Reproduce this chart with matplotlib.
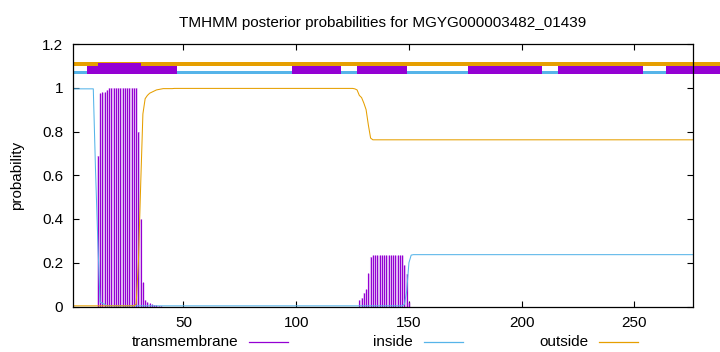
import numpy as np
import matplotlib.pyplot as plt
from matplotlib.patches import Rectangle
from matplotlib.lines import Line2D
from matplotlib.ticker import FuncFormatter

plt.rcParams['font.family'] = ['Liberation Sans', 'DejaVu Sans']

seq_len = 276
pos = np.arange(1, seq_len + 1)

# posterior probabilities, position 1..276
tm = ([0.0] * 11
      + [0.69, 0.975, 0.98, 0.98, 0.99]
      + [1.0] * 13
      + [0.8, 0.4, 0.11, 0.03, 0.02, 0.015, 0.01, 0.008, 0.005, 0.004, 0.003]
      + [0.0] * 87
      + [0.03, 0.04, 0.063, 0.079, 0.152, 0.228]
      + [0.235] * 14
      + [0.19, 0.15, 0.02]
      + [0.0] * 126)

inside = ([0.995] * 10
          + [0.62, 0.3, 0.02, 0.015, 0.01]
          + [0.003] * 132
          + [0.01, 0.07, 0.2, 0.235]
          + [0.237] * 125)

outside = ([0.003] * 28
           + [0.01, 0.2, 0.55, 0.88, 0.95, 0.965, 0.975, 0.98, 0.985, 0.99, 0.992, 0.994]
           + [0.996] * 5
           + [0.997] * 80
           + [0.995, 0.99, 0.965, 0.955, 0.93, 0.9, 0.83, 0.77]
           + [0.762] * 143)

# topology bars above the plot (start, end)
tm_bars = [(7, 47), (98, 120), (127, 149), (176, 209), (216, 254), (264, 292)]
tm_bar_tall = [(12, 31)]

purple = '#9400d3'
blue = '#56b4e9'
orange = '#e69f00'

fig = plt.figure(figsize=(7.2, 3.52), dpi=100)
ax = fig.add_axes([73 / 720, 1 - 306.5 / 352, 620 / 720, 262.5 / 352])

ax.fill_between(pos, tm, step='mid', color=purple, alpha=0.28, lw=0)
ax.vlines(pos, 0, tm, color=purple, lw=0.75)
ax.plot(pos, inside, color=blue, lw=0.75)
ax.plot(pos, outside, color=orange, lw=0.75)

# bars at the top, running past the right border
ax.add_patch(Rectangle((1, 1.101), 300, 0.017, color=orange, lw=0, clip_on=False, zorder=3))
ax.add_patch(Rectangle((1, 1.063), 300, 0.014, color=blue, lw=0, clip_on=False, zorder=3))
for a, b in tm_bars:
    ax.add_patch(Rectangle((a, 1.064), b - a, 0.036, color=purple, lw=0, clip_on=False, zorder=4))
for a, b in tm_bar_tall:
    ax.add_patch(Rectangle((a, 1.064), b - a, 0.051, color=purple, lw=0, clip_on=False, zorder=4))

ax.set_xlim(1, seq_len)
ax.set_ylim(0, 1.2)
ax.set_xticks([50, 100, 150, 200, 250])
ax.set_yticks([0, 0.2, 0.4, 0.6, 0.8, 1.0, 1.2])
ax.yaxis.set_major_formatter(FuncFormatter(lambda v, p: '%g' % v))
ax.tick_params(direction='in', top=True, right=True, length=4, labelsize=11, pad=7)
for s in ax.spines.values():
    s.set_zorder(5)
    s.set_linewidth(0.9)

ax.set_title('TMHMM posterior probabilities for MGYG000003482_01439', fontsize=11, pad=12)
ax.set_ylabel('probability', fontsize=11, labelpad=13)

# legend row below the axis: label then sample line
leg_y = 1 - 342 / 352
for label, col, txt_right, l0, l1 in [('transmembrane', purple, 238, 249, 288),
                                      ('inside', blue, 413, 424, 463),
                                      ('outside', orange, 589, 599, 638)]:
    fig.text(txt_right / 720, leg_y, label, ha='right', va='center', fontsize=11)
    fig.add_artist(Line2D([l0 / 720, l1 / 720], [leg_y, leg_y], color=col, lw=0.9))

fig.savefig('out.png', dpi=100)
